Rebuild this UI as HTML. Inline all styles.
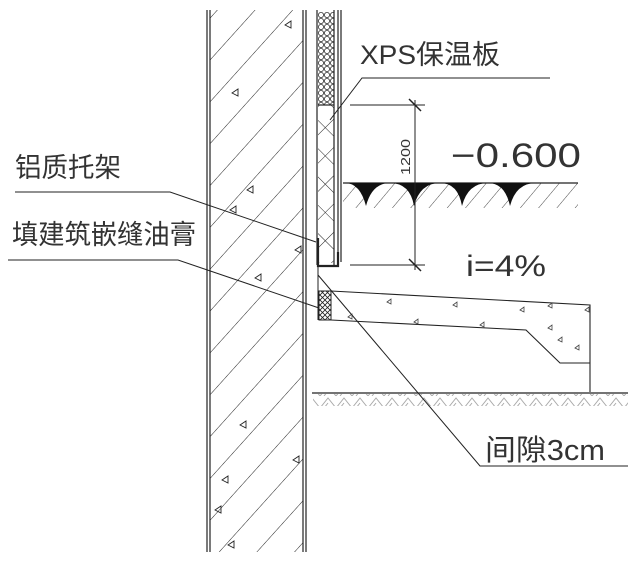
<!DOCTYPE html>
<html><head><meta charset="utf-8"><style>
html,body{margin:0;padding:0;background:#fff}
svg{display:block}
text{font-family:"Liberation Sans","Noto Sans CJK SC",sans-serif;fill:#333}
</style></head><body>
<svg width="640" height="563" viewBox="0 0 640 563" xmlns="http://www.w3.org/2000/svg">
<defs>
<pattern id="wh" patternUnits="userSpaceOnUse" width="28" height="28" patternTransform="rotate(-48)">
<line x1="0" y1="0" x2="28" y2="0" stroke="#222" stroke-width="1"/>
</pattern>
<pattern id="ph" patternUnits="userSpaceOnUse" width="20" height="20" patternTransform="rotate(-45)">
<line x1="0" y1="0" x2="20" y2="0" stroke="#222" stroke-width="0.9"/>
</pattern>
<pattern id="pb" patternUnits="userSpaceOnUse" width="20" height="20" patternTransform="rotate(45)">
<line x1="0" y1="0" x2="20" y2="0" stroke="#222" stroke-width="0.9"/>
</pattern>
<pattern id="hex" patternUnits="userSpaceOnUse" width="6" height="6">
<circle cx="3" cy="3" r="2.6" fill="none" stroke="#333" stroke-width="0.8"/>
</pattern>
<pattern id="xx" patternUnits="userSpaceOnUse" width="5" height="5">
<path d="M0 0L5 5M5 0L0 5" stroke="#222" stroke-width="0.8"/>
</pattern>
<pattern id="gh" patternUnits="userSpaceOnUse" width="16" height="12">
<path d="M0 12L8 2L16 12M4 12L8 7" stroke="#aaa" stroke-width="1" fill="none"/>
</pattern>
<pattern id="sh" patternUnits="userSpaceOnUse" width="14" height="14" patternTransform="rotate(-50)">
<line x1="0" y1="0" x2="14" y2="0" stroke="#333" stroke-width="0.9"/>
</pattern>
</defs>
<rect x="210" y="10" width="93" height="542" fill="url(#wh)"/>
<g stroke="#222" stroke-width="1.2">
<line x1="207" y1="10" x2="207" y2="552"/><line x1="210" y1="10" x2="210" y2="552"/>
<line x1="303" y1="10" x2="303" y2="552"/><line x1="306" y1="10" x2="306" y2="552"/>
</g>
<g fill="none" stroke="#222" stroke-width="0.9">
<path d="M232 93l6 -4l0 7z"/><path d="M247 190l6 -4l0 7z"/><path d="M230 210l6 -4l0 7z"/>
<path d="M295 250l6 -4l0 7z"/><path d="M255 278l6 -4l0 7z"/><path d="M240 425l6 -4l0 7z"/>
<path d="M293 460l6 -4l0 7z"/><path d="M222 480l6 -4l0 7z"/><path d="M215 510l6 -4l0 7z"/>
<path d="M285 25l6 -4l0 7z"/><path d="M228 545l6 -4l0 7z"/>
</g>
<rect x="318" y="12" width="16" height="93" fill="url(#hex)"/>
<rect x="318" y="105" width="16" height="158" fill="url(#pb)"/>
<rect x="318" y="105" width="16" height="158" fill="url(#ph)"/>
<g stroke="#222" stroke-width="1.2" fill="none">
<line x1="317" y1="10" x2="317" y2="265"/><line x1="334" y1="10" x2="334" y2="265"/>
<line x1="318" y1="105" x2="334" y2="105"/>
<line x1="338" y1="10" x2="338" y2="262"/><line x1="341" y1="10" x2="341" y2="262"/>
<path d="M318 238V266H338V252" stroke-width="2.2"/>
</g>
<line x1="318" y1="266" x2="318" y2="320" stroke="#222"/>
<rect x="319" y="291" width="12" height="29" fill="url(#xx)" stroke="#222"/>
<path d="M331 291L590 305V392M331 320L526 330L560 363H590" fill="none" stroke="#222" stroke-width="1.1"/>
<g fill="none" stroke="#444" stroke-width="0.8">
<path d="M387 302l4 -3l0 5z"/><path d="M453 305l4 -3l0 5z"/><path d="M520 310l4 -3l0 5z"/>
<path d="M548 306l4 -3l0 5z"/><path d="M585 310l4 -3l0 5z"/><path d="M548 328l4 -3l0 5z"/>
<path d="M558 340l4 -3l0 5z"/><path d="M575 348l4 -3l0 5z"/><path d="M414 322l4 -3l0 5z"/>
<path d="M480 325l4 -3l0 5z"/><path d="M348 317l4 -3l0 5z"/>
</g>
<rect x="313" y="394" width="315" height="12" fill="url(#gh)"/>
<line x1="312" y1="393" x2="628" y2="393" stroke="#222" stroke-width="1.2"/>
<rect x="343" y="183" width="235" height="25" fill="url(#sh)"/>
<line x1="343" y1="183" x2="578" y2="183" stroke="#222" stroke-width="1.2"/>
<g fill="#111">
<path d="M345 183Q360 183 366 206Q372 183 390 183Z"/>
<path d="M390 183Q410 183 414 206Q420 183 440 183Z"/>
<path d="M440 183Q458 183 462 206Q468 183 488 183Z"/>
<path d="M488 183Q505 183 510 206Q516 183 536 183Z"/>
</g>
<g stroke="#222" stroke-width="1">
<line x1="350" y1="105" x2="425" y2="105"/><line x1="350" y1="265" x2="425" y2="265"/>
<line x1="415" y1="100" x2="415" y2="270"/>
<line x1="409" y1="99" x2="421" y2="111" stroke-width="1.5"/><line x1="409" y1="259" x2="421" y2="271" stroke-width="1.5"/>
</g>
<text x="0" y="0" font-size="13" transform="translate(410,175) rotate(-90)" textLength="36" lengthAdjust="spacingAndGlyphs">1200</text>
<g stroke="#222" stroke-width="1" fill="none">
<path d="M330 120L362 78H550"/>
<path d="M15 192H170L316 242"/>
<path d="M8 260H178L319 308"/>
<path d="M318 275L480 466H628"/>
</g>
<text x="360" y="64" font-size="27" textLength="140" lengthAdjust="spacingAndGlyphs">XPS保温板</text>
<text x="451" y="167" font-size="34" textLength="130" lengthAdjust="spacingAndGlyphs">−0.600</text>
<text x="466" y="276" font-size="30" textLength="80" lengthAdjust="spacingAndGlyphs">i=4%</text>
<text x="15" y="177" font-size="27" textLength="106" lengthAdjust="spacingAndGlyphs">铝质托架</text>
<text x="12" y="244" font-size="27" textLength="184" lengthAdjust="spacingAndGlyphs">填建筑嵌缝油膏</text>
<text x="485" y="460" font-size="29" textLength="120" lengthAdjust="spacingAndGlyphs">间隙3cm</text>
</svg>
</body></html>
